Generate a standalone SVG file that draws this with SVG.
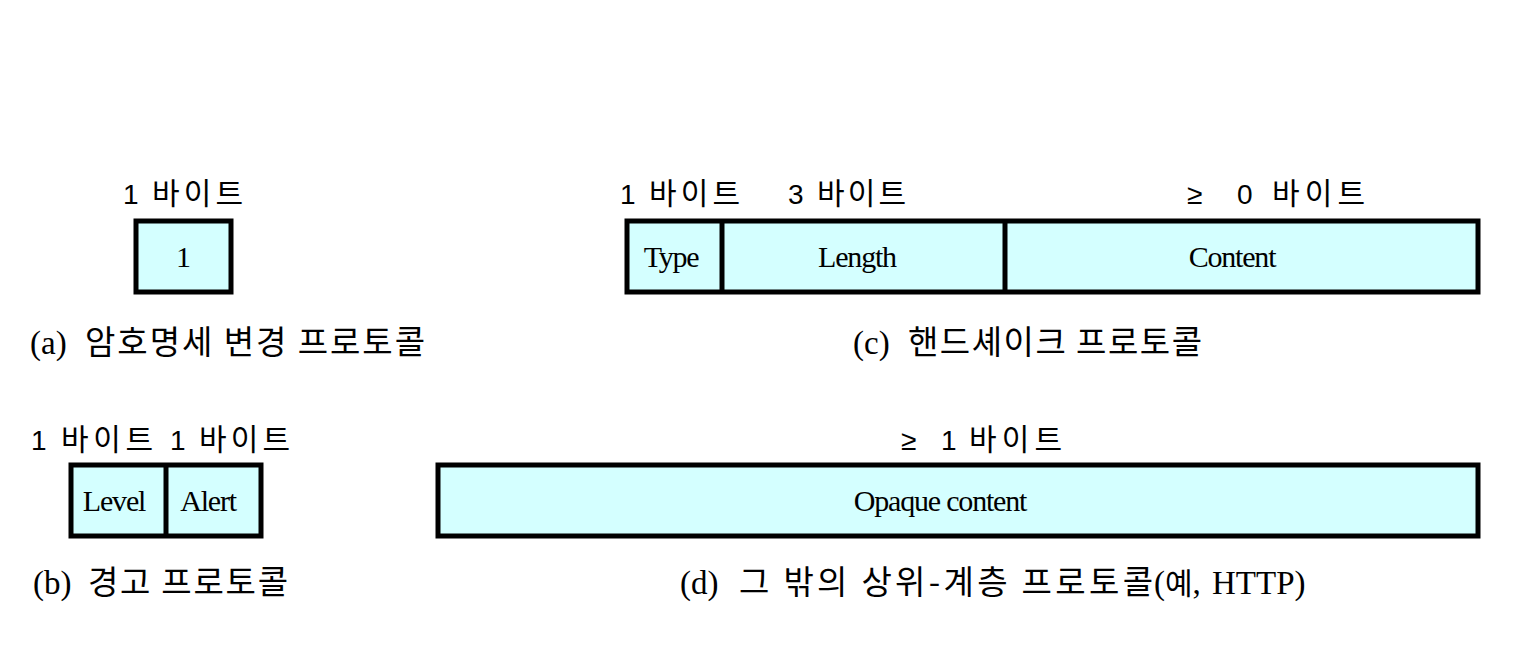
<svg xmlns="http://www.w3.org/2000/svg" width="1514" height="646" viewBox="0 0 1514 646">
<style>
.box{fill:#d4ffff;stroke:#000;stroke-width:5}
.div{stroke:#000;stroke-width:5}
.lbl{font-family:"Liberation Sans","Noto Sans CJK KR",sans-serif;font-size:28px;fill:#000}
.lbl .ko{font-size:30px}
.ko{font-family:"Noto Sans CJK KR","Liberation Sans",sans-serif}
.fld{font-family:"Liberation Serif",serif;font-size:30px;fill:#000;text-anchor:middle;letter-spacing:-1.2px}
.cap{font-family:"Liberation Serif","Noto Sans CJK KR",serif;font-size:33px;fill:#000}
</style>
<rect width="1514" height="646" fill="#fff"/>
<g id="change-cipher-spec">
<text class="lbl" y="204"><tspan x="123">1</tspan><tspan class="ko" x="152" textLength="91" lengthAdjust="spacing">바이트</tspan></text>
<rect class="box" x="136" y="221" width="95" height="71"/>
<text class="fld" x="183" y="267">1</text>
<text class="cap" y="354"><tspan x="30">(a)</tspan><tspan class="ko" x="85" textLength="340" lengthAdjust="spacing">암호명세 변경 프로토콜</tspan></text>
</g>
<g id="handshake">
<text class="lbl" y="204"><tspan x="620">1</tspan><tspan class="ko" x="649" textLength="91" lengthAdjust="spacing">바이트</tspan></text>
<text class="lbl" y="204"><tspan x="788">3</tspan><tspan class="ko" x="817" textLength="89" lengthAdjust="spacing">바이트</tspan></text>
<text class="lbl" y="204"><tspan x="1187">≥</tspan><tspan x="1237">0</tspan><tspan class="ko" x="1272" textLength="93" lengthAdjust="spacing">바이트</tspan></text>
<rect class="box" x="627" y="221" width="851" height="71"/>
<line class="div" x1="722" y1="221" x2="722" y2="292"/>
<line class="div" x1="1005" y1="221" x2="1005" y2="292"/>
<text class="fld" x="671" y="267">Type</text>
<text class="fld" x="857" y="267">Length</text>
<text class="fld" x="1232" y="267">Content</text>
<text class="cap" y="354"><tspan x="853">(c)</tspan><tspan class="ko" x="908" textLength="294" lengthAdjust="spacing">핸드셰이크 프로토콜</tspan></text>
</g>
<g id="alert">
<text class="lbl" y="450"><tspan x="31">1</tspan><tspan class="ko" x="61" textLength="92" lengthAdjust="spacing">바이트</tspan><tspan x="170">1</tspan><tspan class="ko" x="199" textLength="91" lengthAdjust="spacing">바이트</tspan></text>
<rect class="box" x="71" y="465" width="190" height="71"/>
<line class="div" x1="166" y1="465" x2="166" y2="536"/>
<text class="fld" x="114" y="511">Level</text>
<text class="fld" x="208" y="511">Alert</text>
<text class="cap" y="594"><tspan x="33">(b)</tspan><tspan class="ko" x="88" textLength="200" lengthAdjust="spacing">경고 프로토콜</tspan></text>
</g>
<g id="application-data">
<text class="lbl" y="450"><tspan x="901">≥</tspan><tspan x="941">1</tspan><tspan class="ko" x="969" textLength="93" lengthAdjust="spacing">바이트</tspan></text>
<rect class="box" x="438" y="465" width="1040" height="71"/>
<text class="fld" x="940" y="511">Opaque content</text>
<text class="cap" y="594"><tspan x="680">(d)</tspan><tspan class="ko" x="739" textLength="414" lengthAdjust="spacing">그 밖의 상위-계층 프로토콜</tspan><tspan x="1154">(</tspan><tspan class="ko" font-size="30">예</tspan><tspan>,</tspan><tspan x="1212">HTTP)</tspan></text>
</g>
<g id="connectors"/>
</svg>
